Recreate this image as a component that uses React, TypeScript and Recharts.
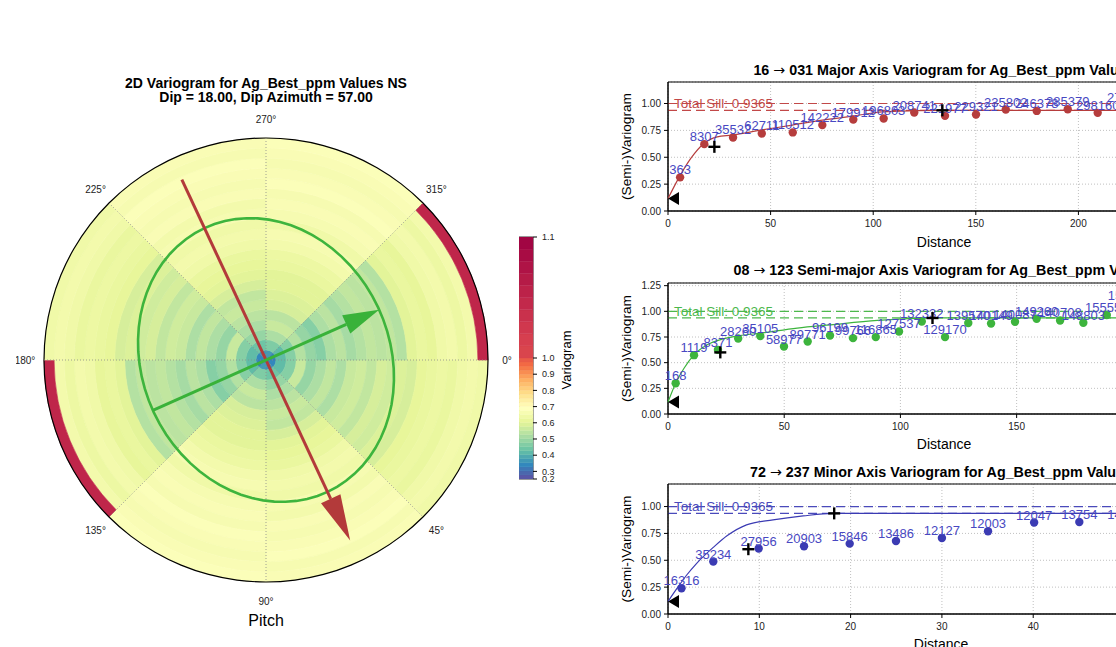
import React from "react";
import {
  PieChart,
  Pie,
  Cell,
  ComposedChart,
  Scatter,
  XAxis,
  YAxis,
  CartesianGrid,
  ReferenceLine,
  ReferenceArea,
  BarChart,
  Bar,
} from "recharts";

const FONT = "'Liberation Sans', Arial, Helvetica, sans-serif";
const RAD = Math.PI / 180;

// ---- 2D variogram map ----
const ANGLE_LABELS = ["0°", "45°", "90°", "135°", "180°", "225°", "270°", "315°"];
const SPOKE_AZIMUTHS = [0, 45, 90, 135];
const MAP_MAX_LAG = 204;

// ring values, centre outwards; the map is point-symmetric so a sector
// and the one opposite it share a list
const SECTOR_0_45 = [0.34, 0.42, 0.47, 0.56, 0.49, 0.52, 0.55, 0.52, 0.56, 0.57, 0.55, 0.58, 0.57, 0.59, 0.58, 0.61, 0.62, 0.63, 0.62, 0.64, 0.65, 0.64];
const SECTOR_45_90 = [0.36, 0.44, 0.49, 0.52, 0.54, 0.56, 0.55, 0.58, 0.6, 0.61, 0.62, 0.64, 0.65, 0.64, 0.66, 0.65, 0.67, 0.66, 0.67, 0.68, 0.66, 0.67];
const SECTOR_90_135 = [0.37, 0.46, 0.52, 0.56, 0.54, 0.58, 0.59, 0.6, 0.6, 0.62, 0.63, 0.65, 0.66, 0.64, 0.66, 0.67, 0.66, 0.68, 0.67, 0.66, 0.67, 0.68];
const SECTOR_135_180 = [0.33, 0.42, 0.47, 0.53, 0.49, 0.47, 0.52, 0.54, 0.51, 0.53, 0.55, 0.54, 0.55, 0.53, 0.6, 0.62, 0.61, 0.64, 0.65, 0.63, 0.65, 1.05];
const SECTORS = [SECTOR_0_45, SECTOR_45_90, SECTOR_90_135, SECTOR_135_180];

const MAJOR_AZIMUTH = 65;
const MAJOR_ARROW_LAG = 183;
const SEMI_AZIMUTH = 336;
const MAJOR_RANGE = 133.7;
const SEMI_RANGE = 113.8;

// ---- colorbar ----
const CBAR_TICKS = [0.2, 0.3, 0.4, 0.5, 0.6, 0.7, 0.8, 0.9, 1.0, 1.1];
const CBAR_MIN = 0.253;
const CBAR_CENTER = 1.0;
const CBAR_MAX = 1.1;

// ---- directional variograms ----
const NUGGET = 0.116;
const TOTAL_SILL = 0.9365;
const SILL_LINE = 1.0;

const MAJOR_LAGS = [5.9, 17.7, 31.7, 45.7, 60.8, 75.2, 90.3, 105.1, 120.0, 135.0, 150.1, 164.6, 179.7, 194.8, 209.4, 224.5];
const MAJOR_GAMMA = [0.313, 0.622, 0.684, 0.721, 0.731, 0.799, 0.851, 0.861, 0.916, 0.885, 0.898, 0.944, 0.931, 0.947, 0.913, 0.99];
const MAJOR_PAIRS = ["363", "8307", "35532", "62711", "110512", "142222", "179912", "196803", "208741", "221977", "229321", "235802", "246378", "285379", "298160", "271345"];
const MAJOR_MODEL_LAGS = [0, 5.4, 11.1, 17.5, 24, 31.3, 45.2, 60.6, 75.2, 89.8, 104.4, 120, 133.7, 269];
const MAJOR_MODEL_GAMMA = [0.116, 0.313, 0.489, 0.628, 0.69, 0.706, 0.752, 0.799, 0.845, 0.882, 0.922, 0.933, 0.9365, 0.9365];
const MAJOR_RANGE_LAGS = [22.6, 133.7];
const MAJOR_RANGE_GAMMA = [0.597, 0.9365];

const SEMI_LAGS = [3.3, 11.2, 21.5, 30.2, 39.7, 49.9, 60.1, 69.7, 79.6, 89.4, 99.4, 109.2, 119.2, 129.2, 139.0, 149.3, 158.6, 168.7, 178.7, 188.8, 198.5];
const SEMI_GAMMA = [0.3, 0.573, 0.625, 0.735, 0.759, 0.657, 0.706, 0.765, 0.739, 0.749, 0.804, 0.901, 0.749, 0.886, 0.882, 0.898, 0.928, 0.911, 0.889, 0.964, 1.08];
const SEMI_PAIRS = ["168", "1119", "8371", "28260", "35105", "58977", "89771", "96199", "99766", "116865", "127537", "132332", "129170", "139570", "140149", "140087", "149260", "140708", "148803", "155551", "151927"];
const SEMI_MODEL_LAGS = [0, 3.3, 6.9, 11.2, 16.9, 23.4, 30.6, 39.9, 55.6, 70, 90.1, 113.8, 237.5];
const SEMI_MODEL_GAMMA = [0.116, 0.3, 0.446, 0.576, 0.674, 0.729, 0.762, 0.788, 0.837, 0.869, 0.911, 0.9365, 0.9365];
const SEMI_RANGE_LAGS = [22.5, 113.8];
const SEMI_RANGE_GAMMA = [0.6, 0.935];

const MINOR_LAGS = [1.48, 4.96, 9.93, 14.9, 19.9, 24.97, 30.0, 35.05, 40.1, 45.05, 50.1];
const MINOR_GAMMA = [0.239, 0.488, 0.609, 0.631, 0.655, 0.68, 0.708, 0.77, 0.851, 0.857, 0.86];
const MINOR_PAIRS = ["16316", "35234", "27956", "20903", "15846", "13486", "12127", "12003", "12047", "13754", "14208"];
const MINOR_MODEL_LAGS = [0, 1.0, 2.05, 3.14, 4.96, 6.5, 8.6, 11.5, 14.8, 18.1, 59.8];
const MINOR_MODEL_GAMMA = [0.116, 0.24, 0.363, 0.472, 0.62, 0.73, 0.83, 0.876, 0.913, 0.9365, 0.9365];
const MINOR_RANGE_LAGS = [8.8, 18.2];
const MINOR_RANGE_GAMMA = [0.603, 0.9365];

// ---- colours / layout ----
const RED = "#b63d3d";
const GREEN = "#3db43d";
const BLUE = "#3b3bb3";
const PAIRS_COLOR = "#4848c2";
const GRID = "#b0b0b0";

const MAP_CX = 266;
const MAP_CY = 360;
const MAP_R = 222;
const RING_PX = MAP_R / SECTOR_0_45.length;
const PX_PER_LAG = MAP_R / MAP_MAX_LAG;

// Spectral_r
const SPECTRAL_R = ["#5e4fa2", "#3288bd", "#66c2a5", "#abdda4", "#e6f598", "#ffffbf", "#fee08b", "#fdae61", "#f46d43", "#d53e4f", "#9e0142"];

function hex(h: string) {
  return [1, 3, 5].map((i) => parseInt(h.slice(i, i + 2), 16));
}

function cmap(q: number) {
  const t = Math.min(1, Math.max(0, q)) * 10;
  const i = Math.min(9, Math.floor(t));
  const f = t - i;
  const a = hex(SPECTRAL_R[i]);
  const b = hex(SPECTRAL_R[i + 1]);
  const c = a.map((v, k) => Math.round(v + (b[k] - v) * f));
  return `rgb(${c[0]},${c[1]},${c[2]})`;
}

function normPos(v: number) {
  if (v <= CBAR_CENTER) return Math.max(0, (0.5 * (v - CBAR_MIN)) / (CBAR_CENTER - CBAR_MIN));
  return Math.min(1, 0.5 + (0.5 * (v - CBAR_CENTER)) / (CBAR_MAX - CBAR_CENTER));
}

function posColor(p: number) {
  return p <= 0.5 ? cmap((p / 0.5) * 0.85) : cmap(0.88 + (0.12 * (p - 0.5)) / 0.5);
}

const valueColor = (v: number) => posColor(normPos(v));

const polar = (azimuth: number, r: number) => ({
  x: r * Math.cos(azimuth * RAD),
  y: r * Math.sin(azimuth * RAD),
});

const Empty = () => <g />;

// ---------------- variogram map ----------------
const rings = SECTOR_0_45.map((_, r) =>
  ANGLE_LABELS.map((_, k) => ({ w: 1, v: SECTORS[k % 4][r] }))
);
const angleData = ANGLE_LABELS.map((label) => ({ label, w: 1 }));

const spokes = SPOKE_AZIMUTHS.map((a) => [polar(a + 180, MAP_MAX_LAG), polar(a, MAP_MAX_LAG)]);

const ellipsePts = Array.from({ length: 73 }, (_, i) => {
  const t = (i / 72) * 2 * Math.PI;
  const phi = MAJOR_AZIMUTH * RAD;
  return {
    x: MAJOR_RANGE * Math.cos(t) * Math.cos(phi) - SEMI_RANGE * Math.sin(t) * Math.sin(phi),
    y: MAJOR_RANGE * Math.cos(t) * Math.sin(phi) + SEMI_RANGE * Math.sin(t) * Math.cos(phi),
  };
});

function arrow(azimuth: number, lag: number, headPx: number) {
  return [polar(azimuth + 180, lag), { ...polar(azimuth, lag - headPx / PX_PER_LAG), head: true }];
}

const arrowHead = (color: string, azimuth: number, len: number, half: number) => (p: any) => {
  if (!p.payload || !p.payload.head) return <g />;
  const ux = Math.cos(azimuth * RAD);
  const uy = Math.sin(azimuth * RAD);
  const pts = [
    [p.cx + ux * len, p.cy + uy * len],
    [p.cx - uy * half, p.cy + ux * half],
    [p.cx + uy * half, p.cy - ux * half],
  ];
  return <polygon points={pts.map((q) => q.join(",")).join(" ")} fill={color} />;
};

const renderAngleLabel = (p: any) => {
  const r = p.outerRadius + 19;
  const x = p.cx + r * Math.cos(-p.midAngle * RAD);
  const y = p.cy + r * Math.sin(-p.midAngle * RAD);
  return (
    <text x={x} y={y} textAnchor="middle" dominantBaseline="central" fontSize={10} fill="#222" fontFamily={FONT}>
      {ANGLE_LABELS[p.index]}
    </text>
  );
};

function VariogramMap() {
  return (
    <>
      <div style={{ position: "absolute", left: MAP_CX - 250, top: MAP_CY - 250 }}>
        <PieChart width={500} height={500} margin={{ top: 0, right: 0, bottom: 0, left: 0 }}>
          {rings.map((ring, i) => (
            <Pie
              key={i}
              data={ring}
              dataKey="w"
              cx={250}
              cy={250}
              startAngle={0}
              endAngle={-360}
              innerRadius={i * RING_PX}
              outerRadius={(i + 1) * RING_PX}
              stroke="none"
              isAnimationActive={false}
            >
              {ring.map((c, k) => (
                <Cell key={k} fill={valueColor(c.v)} stroke={valueColor(c.v)} strokeWidth={0.6} />
              ))}
            </Pie>
          ))}
          <Pie
            data={[{ w: 1 }]}
            dataKey="w"
            cx={250}
            cy={250}
            startAngle={0}
            endAngle={-360}
            innerRadius={MAP_R - 0.6}
            outerRadius={MAP_R + 0.6}
            fill="#000"
            stroke="none"
            isAnimationActive={false}
          />
          <Pie
            data={angleData}
            dataKey="w"
            cx={250}
            cy={250}
            startAngle={22.5}
            endAngle={-337.5}
            innerRadius={0}
            outerRadius={MAP_R}
            fill="none"
            stroke="none"
            label={renderAngleLabel}
            labelLine={false}
            isAnimationActive={false}
          />
        </PieChart>
      </div>
      <div style={{ position: "absolute", left: MAP_CX - MAP_R, top: MAP_CY - MAP_R }}>
        <ComposedChart width={2 * MAP_R} height={2 * MAP_R} margin={{ top: 0, right: 0, bottom: 0, left: 0 }}>
          <XAxis type="number" dataKey="x" domain={[-MAP_MAX_LAG, MAP_MAX_LAG]} hide />
          <YAxis type="number" dataKey="y" domain={[-MAP_MAX_LAG, MAP_MAX_LAG]} reversed hide />
          {spokes.map((s, i) => (
            <Scatter
              key={i}
              data={s}
              line={{ stroke: "#8c8c8c", strokeWidth: 0.8, strokeDasharray: "1 2" }}
              shape={Empty}
              isAnimationActive={false}
            />
          ))}
          <Scatter data={ellipsePts} line={{ stroke: GREEN, strokeWidth: 2.6 }} shape={Empty} isAnimationActive={false} />
          <Scatter
            data={arrow(MAJOR_AZIMUTH, MAJOR_ARROW_LAG, 46)}
            line={{ stroke: "#b33a3a", strokeWidth: 3 }}
            shape={arrowHead("#b33a3a", MAJOR_AZIMUTH, 46, 10.7)}
            isAnimationActive={false}
          />
          <Scatter
            data={arrow(SEMI_AZIMUTH, SEMI_RANGE, 36)}
            line={{ stroke: "#39b239", strokeWidth: 3 }}
            shape={arrowHead("#39b239", SEMI_AZIMUTH, 36, 10)}
            isAnimationActive={false}
          />
        </ComposedChart>
      </div>
    </>
  );
}

// ---------------- colorbar ----------------
const CBAR_BANDS = [
  ...Array.from({ length: 30 }, (_, i) => ({ lo: (i * 0.5) / 30, hi: ((i + 1) * 0.5) / 30 })),
  ...Array.from({ length: 10 }, (_, i) => ({ lo: 0.5 + i * 0.05, hi: 0.5 + (i + 1) * 0.05 })),
].map((b) => ({ ...b, color: posColor((b.lo + b.hi) / 2) }));

const cbarRow: Record<string, any> = { name: "cbar" };
CBAR_BANDS.forEach((b, i) => {
  cbarRow[`b${i}`] = b.hi - b.lo;
});

function Colorbar() {
  return (
    <div style={{ position: "absolute", left: 519, top: 227 }}>
      <BarChart
        width={14 + 40}
        height={242 + 20}
        data={[cbarRow]}
        margin={{ top: 10, right: 0, bottom: 10, left: 0 }}
        barCategoryGap={0}
        barGap={0}
      >
        <XAxis dataKey="name" hide />
        <YAxis
          orientation="right"
          type="number"
          domain={[0, 1]}
          allowDataOverflow
          ticks={CBAR_TICKS.map(normPos)}
          tickFormatter={(_: any, i: number) => CBAR_TICKS[i].toFixed(1)}
          interval={0}
          width={40}
          axisLine={false}
          tickSize={4}
          tickMargin={5}
          tickLine={{ stroke: "#000" }}
          tick={{ fontSize: 9, fill: "#222", fontFamily: FONT }}
        />
        {CBAR_BANDS.map((b, i) => (
          <Bar key={i} dataKey={`b${i}`} stackId="cb" fill={b.color} stroke={b.color} strokeWidth={0.4} isAnimationActive={false} />
        ))}
        <ReferenceArea y1={0} y2={1} fill="none" stroke="#000" strokeWidth={0.8} />
      </BarChart>
    </div>
  );
}

// ---------------- directional panels ----------------
const dotShape = (color: string) => (p: any) => <circle cx={p.cx} cy={p.cy} r={4.2} fill={color} />;

const pairsShape = (p: any) => (
  <text x={p.cx} y={p.cy - 3} textAnchor="middle" fontSize={13} fill={PAIRS_COLOR} fontFamily={FONT}>
    {p.payload.pairs}
  </text>
);

const crossShape = (p: any) => (
  <g stroke="#000" strokeWidth={2.4}>
    <line x1={p.cx - 6} y1={p.cy} x2={p.cx + 6} y2={p.cy} />
    <line x1={p.cx} y1={p.cy - 6} x2={p.cx} y2={p.cy + 6} />
  </g>
);

const nuggetShape = (p: any) => (
  <polygon points={`${p.cx},${p.cy} ${p.cx + 11},${p.cy - 6.5} ${p.cx + 11},${p.cy + 6.5}`} fill="#000" />
);

interface PanelProps {
  plotTop: number;
  plotHeight: number;
  plotWidth: number;
  xMax: number;
  xTicks: number[];
  yMax: number;
  yTicks: number[];
  color: string;
  sillColor: string;
  lags: number[];
  gamma: number[];
  pairs: string[];
  modelLags: number[];
  modelGamma: number[];
  rangeLags: number[];
  rangeGamma: number[];
}

function Panel(props: PanelProps) {
  const yAxisW = 40;
  const xAxisH = 30;
  const m = { top: 10, right: 10, bottom: 10, left: 28 };
  const width = m.left + yAxisW + props.plotWidth + m.right;
  const height = m.top + props.plotHeight + xAxisH + m.bottom;
  const points = props.lags.map((d, i) => ({ d, g: props.gamma[i], pairs: props.pairs[i] }));
  const model = props.modelLags.map((d, i) => ({ d, g: props.modelGamma[i] }));
  const ranges = props.rangeLags.map((d, i) => ({ d, g: props.rangeGamma[i] }));
  const tick = { fontSize: 10, fill: "#222", fontFamily: FONT };

  return (
    <div style={{ position: "absolute", left: 668 - yAxisW - m.left, top: props.plotTop - m.top }}>
      <ComposedChart width={width} height={height} margin={m}>
        <CartesianGrid stroke={GRID} strokeDasharray="1 2" strokeWidth={0.8} />
        <XAxis
          type="number"
          dataKey="d"
          domain={[0, props.xMax]}
          ticks={props.xTicks}
          interval={0}
          height={xAxisH}
          tick={tick}
          tickSize={4}
          tickMargin={5}
          tickLine={{ stroke: "#000" }}
          axisLine={{ stroke: "#000" }}
        />
        <YAxis
          type="number"
          dataKey="g"
          domain={[0, props.yMax]}
          ticks={props.yTicks}
          interval={0}
          width={yAxisW}
          tick={tick}
          tickSize={4}
          tickMargin={3}
          tickFormatter={(v: number) => v.toFixed(2)}
          tickLine={{ stroke: "#000" }}
          axisLine={{ stroke: "#000" }}
        />
        <ReferenceArea x1={0} x2={props.xMax} y1={0} y2={props.yMax} fill="none" stroke="#000" strokeWidth={1} />
        <ReferenceLine
          y={SILL_LINE}
          stroke={props.sillColor}
          strokeWidth={1.2}
          strokeDasharray="9 5"
          label={{
            value: `Total Sill: ${TOTAL_SILL}`,
            position: "insideLeft",
            offset: 6,
            fill: props.sillColor,
            fontSize: 13.5,
            fontFamily: FONT,
          }}
        />
        <ReferenceLine y={TOTAL_SILL} stroke={props.sillColor} strokeWidth={1.2} strokeDasharray="9 5" />
        <Scatter
          data={model}
          line={{ stroke: props.color, strokeWidth: 1.2 }}
          lineJointType="monotoneX"
          shape={Empty}
          isAnimationActive={false}
        />
        <Scatter data={points} shape={dotShape(props.color)} isAnimationActive={false} />
        <Scatter data={points} shape={pairsShape} isAnimationActive={false} />
        <Scatter data={ranges} shape={crossShape} isAnimationActive={false} />
        <Scatter data={[{ d: 0, g: NUGGET }]} shape={nuggetShape} isAnimationActive={false} />
      </ComposedChart>
    </div>
  );
}

// ---------------- page ----------------
const TITLE = { fontFamily: FONT, fontWeight: 700, fontSize: 14, fill: "#000" } as const;
const PANEL_TITLE = { ...TITLE, fontSize: 14.3 } as const;
const LABEL = { fontFamily: FONT, fontSize: 14, fill: "#000" } as const;
const ARROW_FONT = "'DejaVu Sans', sans-serif";

export default function App() {
  return (
    <div
      style={{
        position: "fixed",
        left: 0,
        top: 0,
        width: 1116,
        height: 647,
        overflow: "hidden",
        background: "#fff",
        fontFamily: FONT,
      }}
    >
      <VariogramMap />
      <Colorbar />
      <Panel
        plotTop={82}
        plotHeight={129}
        plotWidth={552}
        xMax={269}
        xTicks={[0, 50, 100, 150, 200, 250]}
        yMax={1.2}
        yTicks={[0, 0.25, 0.5, 0.75, 1.0]}
        color={RED}
        sillColor="#c24848"
        lags={MAJOR_LAGS}
        gamma={MAJOR_GAMMA}
        pairs={MAJOR_PAIRS}
        modelLags={MAJOR_MODEL_LAGS}
        modelGamma={MAJOR_MODEL_GAMMA}
        rangeLags={MAJOR_RANGE_LAGS}
        rangeGamma={MAJOR_RANGE_GAMMA}
      />
      <Panel
        plotTop={283}
        plotHeight={131}
        plotWidth={552}
        xMax={237.5}
        xTicks={[0, 50, 100, 150, 200]}
        yMax={1.276}
        yTicks={[0, 0.25, 0.5, 0.75, 1.0, 1.25]}
        color={GREEN}
        sillColor="#4cb84c"
        lags={SEMI_LAGS}
        gamma={SEMI_GAMMA}
        pairs={SEMI_PAIRS}
        modelLags={SEMI_MODEL_LAGS}
        modelGamma={SEMI_MODEL_GAMMA}
        rangeLags={SEMI_RANGE_LAGS}
        rangeGamma={SEMI_RANGE_GAMMA}
      />
      <Panel
        plotTop={484}
        plotHeight={130}
        plotWidth={546}
        xMax={59.8}
        xTicks={[0, 10, 20, 30, 40, 50]}
        yMax={1.21}
        yTicks={[0, 0.25, 0.5, 0.75, 1.0]}
        color={BLUE}
        sillColor="#4a4abb"
        lags={MINOR_LAGS}
        gamma={MINOR_GAMMA}
        pairs={MINOR_PAIRS}
        modelLags={MINOR_MODEL_LAGS}
        modelGamma={MINOR_MODEL_GAMMA}
        rangeLags={MINOR_RANGE_LAGS}
        rangeGamma={MINOR_RANGE_GAMMA}
      />
      <svg width={1116} height={647} style={{ position: "absolute", left: 0, top: 0, pointerEvents: "none" }}>
        <text x={266} y={88} textAnchor="middle" {...TITLE}>2D Variogram for Ag_Best_ppm Values NS</text>
        <text x={266} y={102} textAnchor="middle" {...TITLE}>Dip = 18.00, Dip Azimuth = 57.00</text>
        <text x={266} y={625.5} textAnchor="middle" fontFamily={FONT} fontSize={16} fill="#000">Pitch</text>
        <text x={571} y={360} textAnchor="middle" transform="rotate(-90 571 360)" fontFamily={FONT} fontSize={13} fill="#000">Variogram</text>

        <text x={944} y={75} textAnchor="middle" {...PANEL_TITLE}>
          16 <tspan fontFamily={ARROW_FONT} fontWeight={400}>→</tspan> 031 Major Axis Variogram for Ag_Best_ppm Values
        </text>
        <text x={944} y={275} textAnchor="middle" {...PANEL_TITLE}>
          08 <tspan fontFamily={ARROW_FONT} fontWeight={400}>→</tspan> 123 Semi-major Axis Variogram for Ag_Best_ppm Values
        </text>
        <text x={941} y={476.5} textAnchor="middle" {...PANEL_TITLE}>
          72 <tspan fontFamily={ARROW_FONT} fontWeight={400}>→</tspan> 237 Minor Axis Variogram for Ag_Best_ppm Values
        </text>

        <text x={631} y={146.5} textAnchor="middle" transform="rotate(-90 631 146.5)" {...LABEL} fontSize={13.7}>(Semi-)Variogram</text>
        <text x={631} y={348.5} textAnchor="middle" transform="rotate(-90 631 348.5)" {...LABEL} fontSize={13.7}>(Semi-)Variogram</text>
        <text x={631} y={549} textAnchor="middle" transform="rotate(-90 631 549)" {...LABEL} fontSize={13.7}>(Semi-)Variogram</text>

        <text x={944} y={247} textAnchor="middle" {...LABEL}>Distance</text>
        <text x={944} y={448.5} textAnchor="middle" {...LABEL}>Distance</text>
        <text x={941} y={648.5} textAnchor="middle" {...LABEL}>Distance</text>
      </svg>
    </div>
  );
}
